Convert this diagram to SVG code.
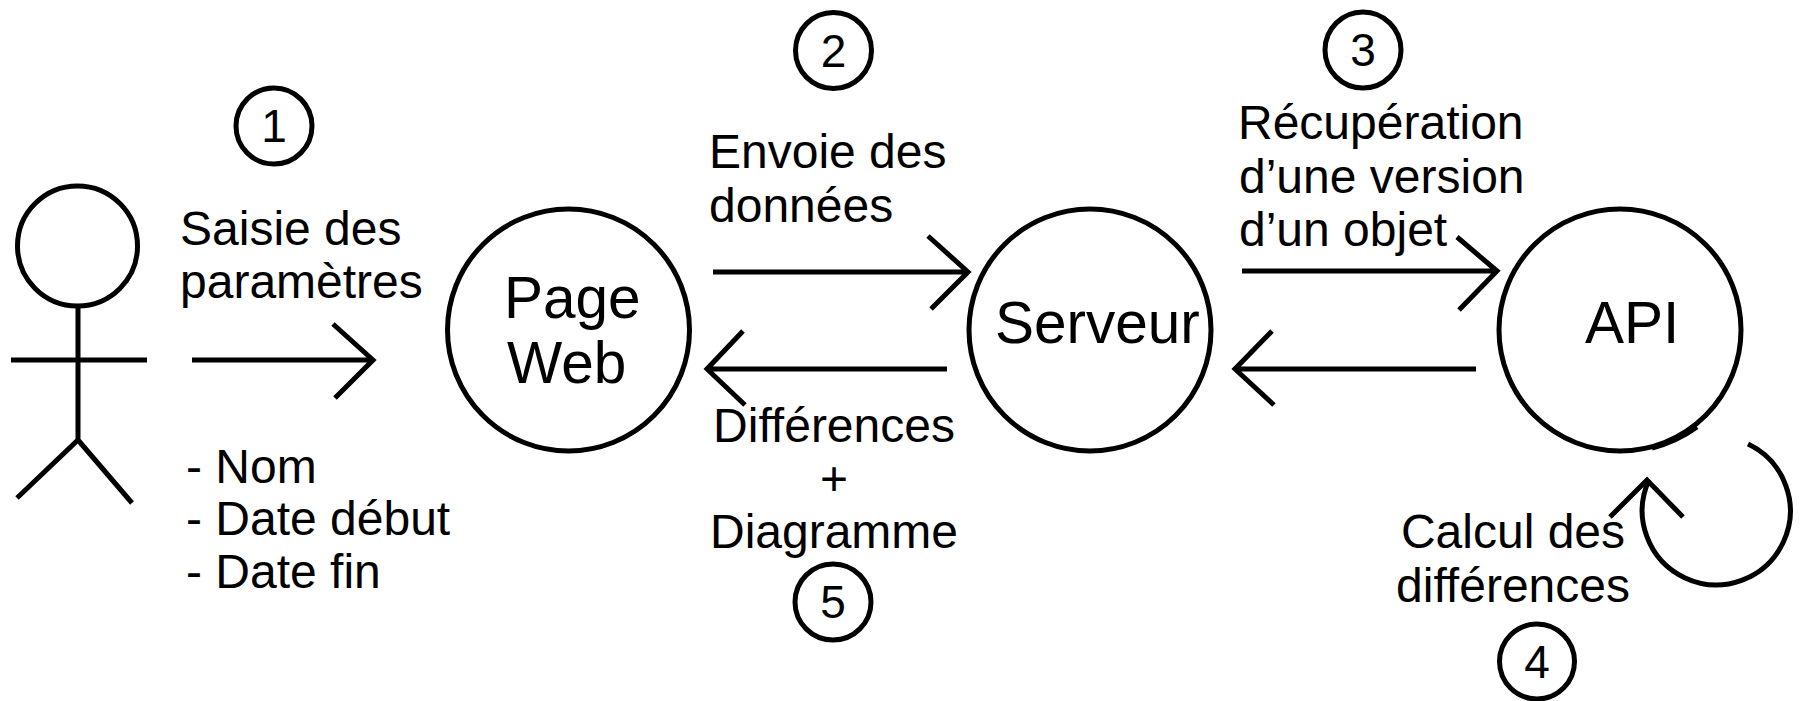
<svg xmlns="http://www.w3.org/2000/svg" width="1806" height="701" viewBox="0 0 1806 701">
<style>
.s{fill:none;stroke:#000;stroke-width:5}
.t{font-family:"Liberation Sans",Arial,sans-serif;font-size:48px;fill:#000}
.n{font-family:"Liberation Sans",Arial,sans-serif;font-size:58.5px;fill:#000}
.num{font-family:"Liberation Sans",Arial,sans-serif;font-size:46px;fill:#000;text-anchor:middle}
.c{text-anchor:middle}
</style>
<rect width="1806" height="701" fill="#fff"/>
<g id="actor">
<ellipse class="s" cx="77.5" cy="246" rx="60" ry="60"/>
<path class="s" d="M78 306 V440 M11 360 H147 M17 498 L78 440 L132 503"/>
</g>
<g id="pageweb">
<circle class="s" cx="568.5" cy="330" r="121"/>
<text class="n" x="504" y="318">Page</text>
<text class="n" x="507" y="383">Web</text>
</g>
<g id="serveur">
<circle class="s" cx="1090" cy="330" r="121"/>
<text class="n" x="995" y="343">Serveur</text>
</g>
<g id="api">
<circle class="s" cx="1620" cy="330" r="121"/>
<path class="s" d="M1652 448 Q1676 442 1697 427"/>
<text class="n" x="1585" y="343">API</text>
</g>
<g id="connectors">
<path class="s" d="M192 360 H372 M333 324 L373 360 L335 398"/>
<path class="s" d="M713 272 H967 M928 236 L968 272 L931 309"/>
<path class="s" d="M947 369 H708 M743 331 L707 369 L745 405"/>
<path class="s" d="M1242 271 H1496 M1457 237 L1497 271 L1459 310"/>
<path class="s" d="M1476 369 H1236 M1272 331 L1235 369 L1274 405"/>
<path class="s" d="M1748 444 A74 74 0 1 1 1649 480"/>
<path class="s" d="M1610 517 L1647 480 L1683 517"/>
</g>
<g id="labels">
<text class="t" x="180" y="245">Saisie des</text>
<text class="t" x="180" y="298">paramètres</text>
<text class="t" x="186" y="483">- Nom</text>
<text class="t" x="186" y="535">- Date début</text>
<text class="t" x="186" y="588">- Date fin</text>
<text class="t" x="709" y="168">Envoie des</text>
<text class="t" x="709" y="222">données</text>
<text class="t c" x="834" y="442">Différences</text>
<text class="t c" x="834" y="495">+</text>
<text class="t c" x="834" y="548">Diagramme</text>
<text class="t" x="1238" y="139">Récupération</text>
<text class="t" x="1239" y="193">d’une version</text>
<text class="t" x="1239" y="246">d’un objet</text>
<text class="t c" x="1513" y="548">Calcul des</text>
<text class="t c" x="1513" y="602">différences</text>
</g>
<g id="steps">
<circle class="s" cx="274" cy="126" r="38"/>
<text class="num" x="274" y="142">1</text>
<circle class="s" cx="833.5" cy="50.5" r="38"/>
<text class="num" x="833.5" y="67">2</text>
<circle class="s" cx="1363" cy="50" r="38"/>
<text class="num" x="1363" y="66">3</text>
<circle class="s" cx="1537" cy="661.5" r="37.5"/>
<text class="num" x="1537" y="678">4</text>
<circle class="s" cx="833" cy="602" r="38"/>
<text class="num" x="833" y="618">5</text>
</g>
</svg>
